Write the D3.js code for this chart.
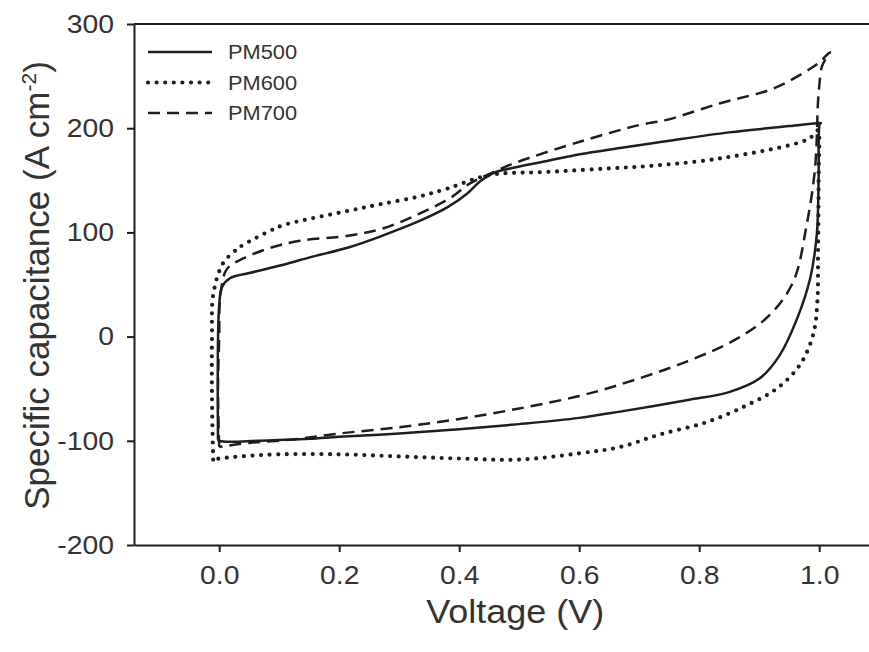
<!DOCTYPE html>
<html>
<head>
<meta charset="utf-8">
<script src="https://cdn.jsdelivr.net/npm/d3@7"></script>
<style>
  html, body { margin: 0; padding: 0; background: #fff; }
  svg { display: block; font-family: 'Liberation Sans', Arial, sans-serif; }
</style>
</head>
<body>
<div id="chart"></div>
<script>
// tick values
const voltageTicks = [0, 0.2, 0.4, 0.6, 0.8, 1.0]
const capacitanceTicks = [300, 200, 100, 0, -100, -200]

// PM500 loop (forward then reverse scan)
const pm500V = [-0.002, 0, 0.005, 0.018, 0.05, 0.107, 0.151, 0.218, 0.268, 0.33, 0.38, 0.413, 0.435, 0.457, 0.49, 0.55, 0.601, 0.668, 0.75, 0.85, 0.95, 1.0, 1.003,
  1.001, 0.999, 0.996, 0.985, 0.963, 0.934, 0.901, 0.851, 0.779, 0.668, 0.6, 0.5, 0.4, 0.3, 0.2, 0.15, 0.063, 0.02, 0, -0.002]
const pm500C = [-99, 30, 48, 56, 61, 69, 76, 86, 96, 110, 124, 137, 149, 157, 162, 169, 175, 181, 188, 196, 202, 205, 205,
  204, 150, 98, 56, 17, -18, -40, -53, -61, -72, -78, -84, -89, -93, -96, -98, -100, -101, -100, -99]

// PM600 loop
const pm600V = [-0.01, -0.012, -0.012, -0.01, 0.006, 0.03, 0.04, 0.09, 0.107, 0.151, 0.218, 0.268, 0.33, 0.38, 0.45, 0.546, 0.668, 0.7, 0.835, 0.98, 0.993, 0.998,
  0.999, 0.998, 0.997, 0.99, 0.968, 0.929, 0.879, 0.813, 0.734, 0.668, 0.6, 0.5, 0.4, 0.3, 0.2, 0.1, 0.035, 0, -0.01]
const pm600C = [-118, -60, 0, 40, 70, 84, 88, 103, 107, 113, 121, 127, 134, 142, 155, 158, 162, 163, 171, 189, 195, 198,
  150, 80, 34, 2, -27, -50, -66, -82, -94, -106, -112, -118, -117, -115, -113, -113, -115, -117, -118]

// PM700 loop
const pm700V = [0, -0.002, 0, 0.002, 0.013, 0.04, 0.09, 0.135, 0.218, 0.274, 0.33, 0.385, 0.418, 0.45, 0.49, 0.601, 0.7, 0.746, 0.835, 0.923, 0.985, 1.0, 1.018,
  1.005, 1.0, 0.998, 0.993, 0.979, 0.957, 0.918, 0.863, 0.779, 0.668, 0.6, 0.5, 0.4, 0.3, 0.2, 0.118, 0.05, 0.01, 0]
const pm700C = [-106, -50, 0, 40, 65, 75, 86, 92, 97, 104, 117, 133, 147, 156, 166, 187, 203, 208, 224, 238, 257, 263, 273,
  260, 240, 225, 161, 107, 53, 21, -2, -24, -46, -57, -69, -79, -87, -93, -99, -102, -105, -106]

const seriesNames = ['PM500', 'PM600', 'PM700']
const seriesDash = ['none', '0 8.6', '12 7']

const series = [
  { name: seriesNames[0], v: pm500V, c: pm500C, dash: seriesDash[0] },
  { name: seriesNames[1], v: pm600V, c: pm600C, dash: seriesDash[1] },
  { name: seriesNames[2], v: pm700V, c: pm700C, dash: seriesDash[2] },
]

const width = 869
const height = 652
const plotLeft = 134
const plotRight = 869
const plotTop = 24
const plotBottom = 545
const ink = '#1e1e1e'
const textColor = '#333'

const x = d3.scaleLinear().domain([-0.142, 1.083]).range([plotLeft, plotRight])
const y = d3.scaleLinear().domain([-200, 300]).range([plotBottom, plotTop])

const svg = d3
  .select('#chart')
  .append('svg')
  .attr('width', width)
  .attr('height', height)

// the figure looks slightly stretched sideways, so widen horizontal text a bit
const stretch = sel =>
  sel.each(function () {
    const w = this.getComputedTextLength()
    d3.select(this).attr('textLength', w * 1.09).attr('lengthAdjust', 'spacingAndGlyphs')
  })

// frame top line
svg
  .append('line')
  .attr('x1', plotLeft)
  .attr('x2', plotRight)
  .attr('y1', plotTop)
  .attr('y2', plotTop)
  .attr('stroke', ink)
  .attr('stroke-width', 2)

const xAxis = svg
  .append('g')
  .attr('transform', `translate(0, ${plotBottom})`)
  .call(
    d3.axisBottom(x)
      .tickValues(voltageTicks)
      .tickFormat(d3.format('.1f'))
      .tickSize(7)
      .tickSizeOuter(0)
      .tickPadding(14)
  )

const yAxis = svg
  .append('g')
  .attr('transform', `translate(${plotLeft}, 0)`)
  .call(
    d3.axisLeft(y)
      .tickValues(capacitanceTicks)
      .tickFormat(d => String(d))
      .tickSize(7)
      .tickSizeOuter(0)
      .tickPadding(13)
  )

;[xAxis, yAxis].forEach(g => {
  g.select('.domain').attr('stroke', ink).attr('stroke-width', 2)
  g.selectAll('.tick line').attr('stroke', ink).attr('stroke-width', 2)
  g.selectAll('.tick text')
    .attr('fill', textColor)
    .style('font-size', '26px')
    .style('font-family', "'Liberation Sans', Arial, sans-serif")
    .call(stretch)
})

// axis titles
svg
  .append('text')
  .attr('x', (x(0) + x(1)) / 2 - 4)
  .attr('y', 623)
  .attr('text-anchor', 'middle')
  .attr('fill', textColor)
  .style('font-size', '33px')
  .text('Voltage (V)')
  .call(stretch)

const yTitle = svg
  .append('text')
  .attr('transform', `translate(49, ${(plotTop + plotBottom) / 2 + 1}) rotate(-90)`)
  .attr('text-anchor', 'middle')
  .attr('fill', textColor)
  .style('font-size', '35px')
yTitle.append('tspan').text('Specific capacitance (A cm')
yTitle.append('tspan').attr('dy', -13).style('font-size', '21px').text('-2')
yTitle.append('tspan').attr('dy', 13).text(')')

// curves
const line = d3
  .line()
  .x(d => x(d[0]))
  .y(d => y(d[1]))
  .curve(d3.curveCatmullRom.alpha(0.5))

svg
  .append('g')
  .selectAll('path')
  .data(series)
  .enter()
  .append('path')
  .attr('d', s => line(s.v.map((v, i) => [v, s.c[i]])))
  .attr('fill', 'none')
  .attr('stroke', ink)
  .attr('stroke-width', s => (s.dash === '0 8.6' ? 4.2 : 2.5))
  .attr('stroke-linecap', s => (s.dash === '0 8.6' ? 'round' : 'butt'))
  .attr('stroke-dasharray', s => s.dash)

// legend
const legend = svg
  .append('g')
  .selectAll('g')
  .data(series)
  .enter()
  .append('g')
  .attr('transform', (d, i) => `translate(148, ${52 + i * 30.5})`)

legend
  .append('line')
  .attr('x1', 0)
  .attr('x2', 64)
  .attr('stroke', ink)
  .attr('stroke-width', s => (s.dash === '0 8.6' ? 4.2 : 2.5))
  .attr('stroke-linecap', s => (s.dash === '0 8.6' ? 'round' : 'butt'))
  .attr('stroke-dasharray', s => s.dash)

legend
  .append('text')
  .attr('x', 80)
  .attr('y', 7)
  .attr('fill', textColor)
  .style('font-size', '20px')
  .text(d => d.name)
  .call(stretch)
</script>
</body>
</html>
